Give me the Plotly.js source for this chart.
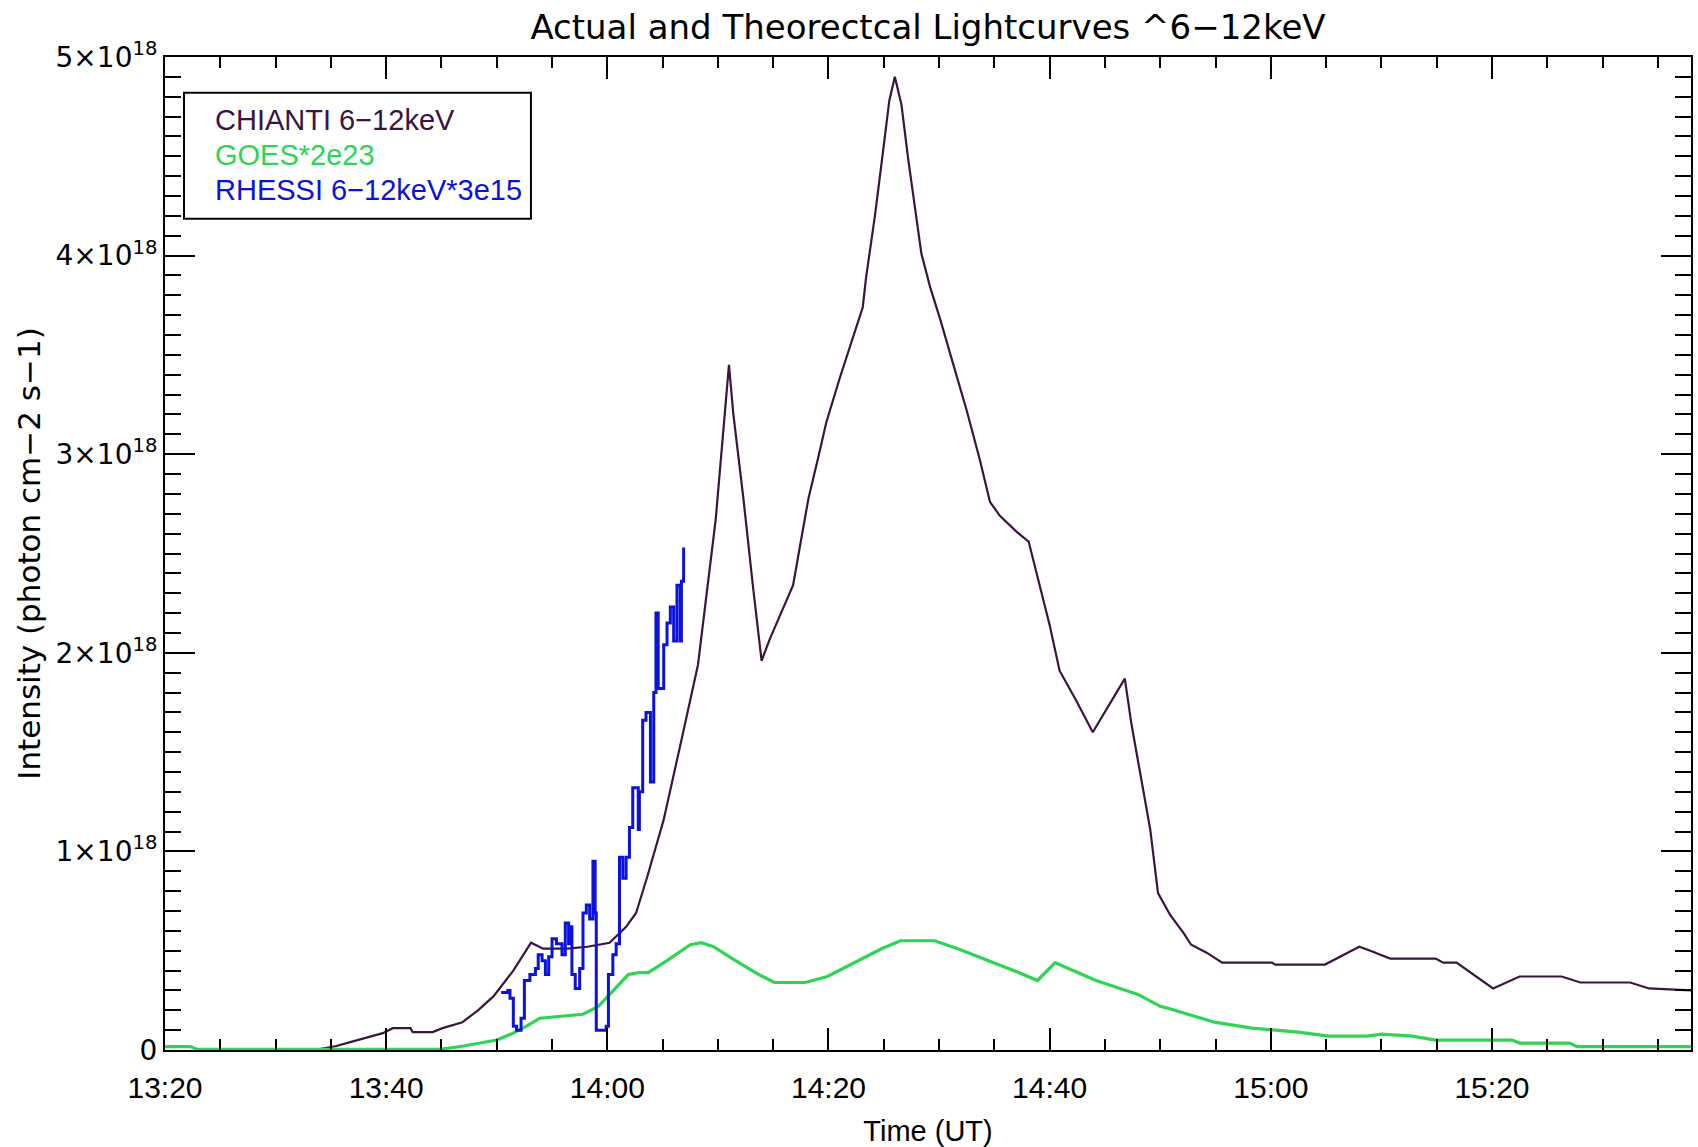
<!DOCTYPE html>
<html>
<head>
<meta charset="utf-8">
<script src="https://cdn.plot.ly/plotly-3.0.1.min.js"></script>
<style>html,body{margin:0;padding:0;background:#fff;}#chart{width:1698px;height:1147px;}</style>
</head>
<body>
<div id="chart"></div>
<script>
// Times are minutes after 13:20 UT; values in units of 1e18 photon cm-2 s-1
const baseDate = '2000-01-01';
const startHour = 13, startMinute = 20;

const seriesNames = ['CHIANTI 6\u221212keV', 'GOES*2e23', 'RHESSI 6\u221212keV*3e15'];
const seriesColors = ['#3b1440', '#2fd455', '#0a12dc'];

const chiantiMin = [13.5,15.5,17.4,19.7,20.6,22.2,22.4,24.2,25.1,26.9,28.3,29.7,31.5,32.7,33.1,34.2,36.4,38.2,40.2,41.7,42.6,43.6,45.1,46.7,48.2,49.8,51.0,51.4,52.3,53.2,53.95,54.7,55.8,56.8,57.4,58.2,59.1,59.8,61.0,62.2,63.1,63.4,64.2,64.9,65.5,66.0,66.6,67.2,67.8,68.4,69.2,70.1,71.3,72.5,73.7,74.6,75.5,77.0,78.1,78.8,80.0,80.9,82.4,83.9,85.4,86.8,87.4,88.2,89.1,89.8,90.9,92.1,92.8,94.2,95.6,100.1,100.4,104.9,106.3,108.0,109.0,110.8,114.9,115.6,116.8,120.1,122.5,126.3,128.0,132.5,134.2,138.0];
const chiantiVal = [0,0.02,0.05,0.085,0.11,0.11,0.09,0.09,0.11,0.14,0.20,0.27,0.40,0.50,0.54,0.51,0.51,0.52,0.54,0.62,0.69,0.87,1.16,1.56,1.94,2.67,3.45,3.20,2.78,2.32,1.96,2.07,2.21,2.34,2.53,2.78,2.99,3.16,3.38,3.59,3.74,3.89,4.20,4.51,4.78,4.90,4.76,4.49,4.24,4.01,3.84,3.68,3.45,3.22,2.97,2.76,2.69,2.61,2.56,2.41,2.14,1.91,1.76,1.60,1.74,1.87,1.64,1.40,1.11,0.79,0.68,0.59,0.53,0.49,0.44,0.44,0.43,0.43,0.47,0.52,0.50,0.46,0.46,0.44,0.44,0.31,0.37,0.37,0.34,0.34,0.31,0.30];

const goesMin = [0,2.3,2.9,24.9,27.0,28.5,30.0,31.5,32.7,33.9,35.7,37.8,39.2,40.6,41.9,42.9,43.7,45.4,47.5,48.5,49.6,51.6,53.7,55.1,57.9,59.9,62.4,64.8,66.5,69.6,71.7,74.5,77.2,78.9,80.5,81.7,84.2,86.9,88.0,90.0,90.7,94.9,98.3,102.5,105.2,108.7,110.0,112.8,114.9,121.8,122.5,127.0,127.7,138.3];
const goesVal = [0.017,0.017,0.003,0.003,0.02,0.035,0.05,0.085,0.12,0.16,0.17,0.18,0.22,0.30,0.38,0.39,0.39,0.45,0.53,0.54,0.52,0.45,0.38,0.34,0.34,0.37,0.44,0.51,0.55,0.55,0.51,0.45,0.39,0.35,0.44,0.41,0.35,0.30,0.28,0.22,0.21,0.14,0.11,0.09,0.07,0.07,0.08,0.07,0.05,0.05,0.035,0.035,0.017,0.017];

const rhessiMin = [30.4,31.0,31.2,31.5,31.8,32.2,32.5,33.0,33.5,33.75,34.1,34.4,34.7,35.0,35.4,35.9,36.2,36.5,36.6,36.8,37.1,37.5,37.8,38.1,38.4,38.7,38.9,39.0,39.6,39.9,40.1,40.5,40.8,41.1,41.4,41.7,42.0,42.3,42.8,42.9,43.2,43.5,43.9,44.2,44.4,44.6,45.1,45.4,45.7,46.0,46.3,46.6,46.7,46.9];
const rhessiVal = [0.29,0.30,0.26,0.12,0.10,0.16,0.35,0.38,0.41,0.48,0.45,0.38,0.47,0.56,0.535,0.48,0.64,0.535,0.62,0.38,0.31,0.41,0.69,0.73,0.66,0.95,0.69,0.10,0.10,0.12,0.38,0.48,0.535,0.97,0.865,0.97,1.12,1.32,1.11,1.30,1.66,1.70,1.35,1.80,2.20,1.82,2.04,2.15,2.23,2.06,2.34,2.06,2.36,2.53];

const yTickVals = [0, 1, 2, 3, 4, 5];
const yTickText = ['0', '1\u00d710<sup>18</sup>', '2\u00d710<sup>18</sup>', '3\u00d710<sup>18</sup>', '4\u00d710<sup>18</sup>', '5\u00d710<sup>18</sup>'];
const valueScale = 1e18;

function pad(n){ return String(n).padStart(2,'0'); }
function toDate(m){
  const ts = startHour*3600 + startMinute*60 + m*60;
  const h = Math.floor(ts/3600);
  const mi = Math.floor((ts%3600)/60);
  const s = ts - h*3600 - mi*60;
  return baseDate + ' ' + pad(h) + ':' + pad(mi) + ':' + s.toFixed(3).padStart(6,'0');
}

const traces = [
  {x: chiantiMin.map(toDate), y: chiantiVal.map(v=>v*valueScale), name: seriesNames[0], mode:'lines', line:{color:seriesColors[0], width:2.2}},
  {x: goesMin.map(toDate), y: goesVal.map(v=>v*valueScale), name: seriesNames[1], mode:'lines', line:{color:seriesColors[1], width:3.2}},
  {x: rhessiMin.map(toDate), y: rhessiVal.map(v=>v*valueScale), name: seriesNames[2], mode:'lines', line:{color:seriesColors[2], width:3, shape:'hv'}}
];

const FONT = 'Liberation Sans, Arial, sans-serif';
const WIDE = 'DejaVu Sans, Liberation Sans, sans-serif';
const legendY = [0.9366, 0.9013, 0.8661];
const annotations = seriesNames.map((n,i)=>({
  xref:'paper', yref:'paper', x:0.0315, y:legendY[i], xanchor:'left', yanchor:'middle',
  text:n, showarrow:false, font:{family:FONT, size:29, color:seriesColors[i]}
}));

const layout = {
  width:1698, height:1147,
  margin:{l:165, r:7, t:57, b:97},
  paper_bgcolor:'#fff', plot_bgcolor:'#fff',
  showlegend:false,
  title:{text:'Actual and Theorectcal Lightcurves ^6\u221212keV', xref:'paper', x:0.5, xanchor:'center', y:1-27/1147, yanchor:'middle', font:{family:WIDE, size:34, color:'#000'}},
  xaxis:{
    type:'date', range:[toDate(0), toDate(138)],
    tickformat:'%H:%M', tick0:toDate(0), dtick:1200000, tickmode:'linear',
    ticks:'inside', ticklen:22, tickwidth:2, tickcolor:'#000',
    minor:{ticks:'inside', dtick:300000, tick0:toDate(0), ticklen:11, tickwidth:2, tickcolor:'#000', showgrid:false},
    showline:true, linewidth:2, linecolor:'#000', mirror:'allticks',
    showgrid:false, zeroline:false,
    ticklabelstandoff:10,
    tickfont:{family:FONT, size:30, color:'#000'},
    title:{text:'Time (UT)', font:{family:FONT, size:29, color:'#000'}, standoff:18}
  },
  yaxis:{
    range:[0, 5*valueScale], tickmode:'array', tickvals:yTickVals.map(v=>v*valueScale), ticktext:yTickText,
    ticks:'inside', ticklen:30, tickwidth:2, tickcolor:'#000',
    minor:{ticks:'inside', tickmode:'linear', tick0:0, dtick:0.1*valueScale, ticklen:16, tickwidth:2, tickcolor:'#000', showgrid:false},
    showline:true, linewidth:2, linecolor:'#000', mirror:'allticks',
    showgrid:false, zeroline:false,
    tickfont:{family:WIDE, size:28, color:'#000'},
    title:{text:'Intensity (photon cm\u22122 s\u22121)', font:{family:WIDE, size:31, color:'#000'}, standoff:6}
  },
  shapes:[{type:'rect', xref:'paper', yref:'paper', x0:0.01245, x1:0.2398, y0:0.837, y1:0.964, line:{color:'#000', width:2}, fillcolor:'rgba(0,0,0,0)'}],
  annotations:annotations
};

Plotly.newPlot('chart', traces, layout, {displayModeBar:false, staticPlot:true});
</script>
</body>
</html>
